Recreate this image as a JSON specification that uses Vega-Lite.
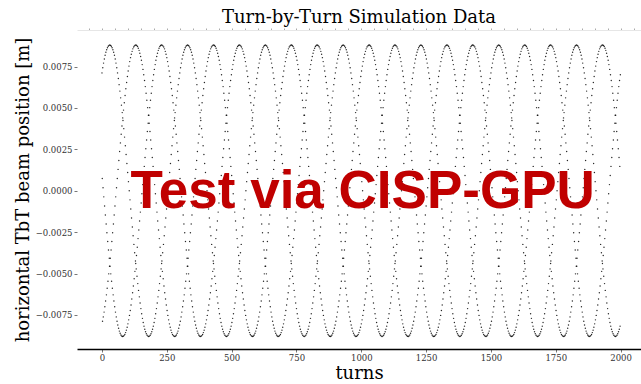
{"$schema":"https://vega.github.io/schema/vega-lite/v6.json","width":564,"height":319,"autosize":{"type":"none"},"padding":{"left":77,"top":30,"right":0,"bottom":35},"background":"#ffffff","config":{"view":{"stroke":null}},
"title":{"text":"Turn-by-Turn Simulation Data","font":"DejaVu Serif","fontSize":18,"fontWeight":"normal","color":"#000000","anchor":"middle","offset":1},
"datasets":{"wm":[{"t":1005,"x":-0.00102,"label":"Test via CISP-GPU"}],
"tbt":[{"t":0,"x":0.00712},{"t":1,"x":0.00074},{"t":2,"x":-0.00788},{"t":3,"x":0.00743},{"t":4,"x":0.00018},{"t":5,"x":-0.00762},{"t":6,"x":0.00771},{"t":7,"x":-0.00037},{"t":8,"x":-0.00733},{"t":9,"x":0.00796},{"t":10,"x":-0.00092},{"t":11,"x":-0.00701},{"t":12,"x":0.00818},{"t":13,"x":-0.00147},{"t":14,"x":-0.00666},{"t":15,"x":0.00837},{"t":16,"x":-0.00201},{"t":17,"x":-0.00629},{"t":18,"x":0.00852},{"t":19,"x":-0.00254},{"t":20,"x":-0.00589},{"t":21,"x":0.00864},{"t":22,"x":-0.00307},{"t":23,"x":-0.00547},{"t":24,"x":0.00873},{"t":25,"x":-0.00358},{"t":26,"x":-0.00502},{"t":27,"x":0.00878},{"t":28,"x":-0.00408},{"t":29,"x":-0.00456},{"t":30,"x":0.0088},{"t":31,"x":-0.00456},{"t":32,"x":-0.00408},{"t":33,"x":0.00878},{"t":34,"x":-0.00502},{"t":35,"x":-0.00358},{"t":36,"x":0.00873},{"t":37,"x":-0.00547},{"t":38,"x":-0.00307},{"t":39,"x":0.00864},{"t":40,"x":-0.00589},{"t":41,"x":-0.00254},{"t":42,"x":0.00852},{"t":43,"x":-0.00629},{"t":44,"x":-0.00201},{"t":45,"x":0.00837},{"t":46,"x":-0.00666},{"t":47,"x":-0.00147},{"t":48,"x":0.00818},{"t":49,"x":-0.00701},{"t":50,"x":-0.00092},{"t":51,"x":0.00796},{"t":52,"x":-0.00733},{"t":53,"x":-0.00037},{"t":54,"x":0.00771},{"t":55,"x":-0.00762},{"t":56,"x":0.00018},{"t":57,"x":0.00743},{"t":58,"x":-0.00788},{"t":59,"x":0.00074},{"t":60,"x":0.00712},{"t":61,"x":-0.00811},{"t":62,"x":0.00129},{"t":63,"x":0.00678},{"t":64,"x":-0.00831},{"t":65,"x":0.00183},{"t":66,"x":0.00641},{"t":67,"x":-0.00848},{"t":68,"x":0.00237},{"t":69,"x":0.00602},{"t":70,"x":-0.00861},{"t":71,"x":0.00289},{"t":72,"x":0.00561},{"t":73,"x":-0.00871},{"t":74,"x":0.00341},{"t":75,"x":0.00517},{"t":76,"x":-0.00877},{"t":77,"x":0.00391},{"t":78,"x":0.00472},{"t":79,"x":-0.0088},{"t":80,"x":0.0044},{"t":81,"x":0.00424},{"t":82,"x":-0.00879},{"t":83,"x":0.00487},{"t":84,"x":0.00375},{"t":85,"x":-0.00875},{"t":86,"x":0.00532},{"t":87,"x":0.00324},{"t":88,"x":-0.00868},{"t":89,"x":0.00575},{"t":90,"x":0.00272},{"t":91,"x":-0.00857},{"t":92,"x":0.00616},{"t":93,"x":0.00219},{"t":94,"x":-0.00842},{"t":95,"x":0.00654},{"t":96,"x":0.00165},{"t":97,"x":-0.00825},{"t":98,"x":0.0069},{"t":99,"x":0.0011},{"t":100,"x":-0.00804},{"t":101,"x":0.00723},{"t":102,"x":0.00055},{"t":103,"x":-0.0078},{"t":104,"x":0.00753},{"t":105,"x":0},{"t":106,"x":-0.00753},{"t":107,"x":0.0078},{"t":108,"x":-0.00055},{"t":109,"x":-0.00723},{"t":110,"x":0.00804},{"t":111,"x":-0.0011},{"t":112,"x":-0.0069},{"t":113,"x":0.00825},{"t":114,"x":-0.00165},{"t":115,"x":-0.00654},{"t":116,"x":0.00842},{"t":117,"x":-0.00219},{"t":118,"x":-0.00616},{"t":119,"x":0.00857},{"t":120,"x":-0.00272},{"t":121,"x":-0.00575},{"t":122,"x":0.00868},{"t":123,"x":-0.00324},{"t":124,"x":-0.00532},{"t":125,"x":0.00875},{"t":126,"x":-0.00375},{"t":127,"x":-0.00487},{"t":128,"x":0.00879},{"t":129,"x":-0.00424},{"t":130,"x":-0.0044},{"t":131,"x":0.0088},{"t":132,"x":-0.00472},{"t":133,"x":-0.00391},{"t":134,"x":0.00877},{"t":135,"x":-0.00517},{"t":136,"x":-0.00341},{"t":137,"x":0.00871},{"t":138,"x":-0.00561},{"t":139,"x":-0.00289},{"t":140,"x":0.00861},{"t":141,"x":-0.00602},{"t":142,"x":-0.00237},{"t":143,"x":0.00848},{"t":144,"x":-0.00641},{"t":145,"x":-0.00183},{"t":146,"x":0.00831},{"t":147,"x":-0.00678},{"t":148,"x":-0.00129},{"t":149,"x":0.00811},
{"t":150,"x":-0.00712},{"t":151,"x":-0.00074},{"t":152,"x":0.00788},{"t":153,"x":-0.00743},{"t":154,"x":-0.00018},{"t":155,"x":0.00762},{"t":156,"x":-0.00771},{"t":157,"x":0.00037},{"t":158,"x":0.00733},{"t":159,"x":-0.00796},{"t":160,"x":0.00092},{"t":161,"x":0.00701},{"t":162,"x":-0.00818},{"t":163,"x":0.00147},{"t":164,"x":0.00666},{"t":165,"x":-0.00837},{"t":166,"x":0.00201},{"t":167,"x":0.00629},{"t":168,"x":-0.00852},{"t":169,"x":0.00254},{"t":170,"x":0.00589},{"t":171,"x":-0.00864},{"t":172,"x":0.00307},{"t":173,"x":0.00547},{"t":174,"x":-0.00873},{"t":175,"x":0.00358},{"t":176,"x":0.00502},{"t":177,"x":-0.00878},{"t":178,"x":0.00408},{"t":179,"x":0.00456},{"t":180,"x":-0.0088},{"t":181,"x":0.00456},{"t":182,"x":0.00408},{"t":183,"x":-0.00878},{"t":184,"x":0.00502},{"t":185,"x":0.00358},{"t":186,"x":-0.00873},{"t":187,"x":0.00547},{"t":188,"x":0.00307},{"t":189,"x":-0.00864},{"t":190,"x":0.00589},{"t":191,"x":0.00254},{"t":192,"x":-0.00852},{"t":193,"x":0.00629},{"t":194,"x":0.00201},{"t":195,"x":-0.00837},{"t":196,"x":0.00666},{"t":197,"x":0.00147},{"t":198,"x":-0.00818},{"t":199,"x":0.00701},{"t":200,"x":0.00092},{"t":201,"x":-0.00796},{"t":202,"x":0.00733},{"t":203,"x":0.00037},{"t":204,"x":-0.00771},{"t":205,"x":0.00762},{"t":206,"x":-0.00018},{"t":207,"x":-0.00743},{"t":208,"x":0.00788},{"t":209,"x":-0.00074},{"t":210,"x":-0.00712},{"t":211,"x":0.00811},{"t":212,"x":-0.00129},{"t":213,"x":-0.00678},{"t":214,"x":0.00831},{"t":215,"x":-0.00183},{"t":216,"x":-0.00641},{"t":217,"x":0.00848},{"t":218,"x":-0.00237},{"t":219,"x":-0.00602},{"t":220,"x":0.00861},{"t":221,"x":-0.00289},{"t":222,"x":-0.00561},{"t":223,"x":0.00871},{"t":224,"x":-0.00341},{"t":225,"x":-0.00517},{"t":226,"x":0.00877},{"t":227,"x":-0.00391},{"t":228,"x":-0.00472},{"t":229,"x":0.0088},{"t":230,"x":-0.0044},{"t":231,"x":-0.00424},{"t":232,"x":0.00879},{"t":233,"x":-0.00487},{"t":234,"x":-0.00375},{"t":235,"x":0.00875},{"t":236,"x":-0.00532},{"t":237,"x":-0.00324},{"t":238,"x":0.00868},{"t":239,"x":-0.00575},{"t":240,"x":-0.00272},{"t":241,"x":0.00857},{"t":242,"x":-0.00616},{"t":243,"x":-0.00219},{"t":244,"x":0.00842},{"t":245,"x":-0.00654},{"t":246,"x":-0.00165},{"t":247,"x":0.00825},{"t":248,"x":-0.0069},{"t":249,"x":-0.0011},{"t":250,"x":0.00804},{"t":251,"x":-0.00723},{"t":252,"x":-0.00055},{"t":253,"x":0.0078},{"t":254,"x":-0.00753},{"t":255,"x":0},{"t":256,"x":0.00753},{"t":257,"x":-0.0078},{"t":258,"x":0.00055},{"t":259,"x":0.00723},{"t":260,"x":-0.00804},{"t":261,"x":0.0011},{"t":262,"x":0.0069},{"t":263,"x":-0.00825},{"t":264,"x":0.00165},{"t":265,"x":0.00654},{"t":266,"x":-0.00842},{"t":267,"x":0.00219},{"t":268,"x":0.00616},{"t":269,"x":-0.00857},{"t":270,"x":0.00272},{"t":271,"x":0.00575},{"t":272,"x":-0.00868},{"t":273,"x":0.00324},{"t":274,"x":0.00532},{"t":275,"x":-0.00875},{"t":276,"x":0.00375},{"t":277,"x":0.00487},{"t":278,"x":-0.00879},{"t":279,"x":0.00424},{"t":280,"x":0.0044},{"t":281,"x":-0.0088},{"t":282,"x":0.00472},{"t":283,"x":0.00391},{"t":284,"x":-0.00877},{"t":285,"x":0.00517},{"t":286,"x":0.00341},{"t":287,"x":-0.00871},{"t":288,"x":0.00561},{"t":289,"x":0.00289},{"t":290,"x":-0.00861},{"t":291,"x":0.00602},{"t":292,"x":0.00237},{"t":293,"x":-0.00848},{"t":294,"x":0.00641},{"t":295,"x":0.00183},{"t":296,"x":-0.00831},{"t":297,"x":0.00678},{"t":298,"x":0.00129},{"t":299,"x":-0.00811},
{"t":300,"x":0.00712},{"t":301,"x":0.00074},{"t":302,"x":-0.00788},{"t":303,"x":0.00743},{"t":304,"x":0.00018},{"t":305,"x":-0.00762},{"t":306,"x":0.00771},{"t":307,"x":-0.00037},{"t":308,"x":-0.00733},{"t":309,"x":0.00796},{"t":310,"x":-0.00092},{"t":311,"x":-0.00701},{"t":312,"x":0.00818},{"t":313,"x":-0.00147},{"t":314,"x":-0.00666},{"t":315,"x":0.00837},{"t":316,"x":-0.00201},{"t":317,"x":-0.00629},{"t":318,"x":0.00852},{"t":319,"x":-0.00254},{"t":320,"x":-0.00589},{"t":321,"x":0.00864},{"t":322,"x":-0.00307},{"t":323,"x":-0.00547},{"t":324,"x":0.00873},{"t":325,"x":-0.00358},{"t":326,"x":-0.00502},{"t":327,"x":0.00878},{"t":328,"x":-0.00408},{"t":329,"x":-0.00456},{"t":330,"x":0.0088},{"t":331,"x":-0.00456},{"t":332,"x":-0.00408},{"t":333,"x":0.00878},{"t":334,"x":-0.00502},{"t":335,"x":-0.00358},{"t":336,"x":0.00873},{"t":337,"x":-0.00547},{"t":338,"x":-0.00307},{"t":339,"x":0.00864},{"t":340,"x":-0.00589},{"t":341,"x":-0.00254},{"t":342,"x":0.00852},{"t":343,"x":-0.00629},{"t":344,"x":-0.00201},{"t":345,"x":0.00837},{"t":346,"x":-0.00666},{"t":347,"x":-0.00147},{"t":348,"x":0.00818},{"t":349,"x":-0.00701},{"t":350,"x":-0.00092},{"t":351,"x":0.00796},{"t":352,"x":-0.00733},{"t":353,"x":-0.00037},{"t":354,"x":0.00771},{"t":355,"x":-0.00762},{"t":356,"x":0.00018},{"t":357,"x":0.00743},{"t":358,"x":-0.00788},{"t":359,"x":0.00074},{"t":360,"x":0.00712},{"t":361,"x":-0.00811},{"t":362,"x":0.00129},{"t":363,"x":0.00678},{"t":364,"x":-0.00831},{"t":365,"x":0.00183},{"t":366,"x":0.00641},{"t":367,"x":-0.00848},{"t":368,"x":0.00237},{"t":369,"x":0.00602},{"t":370,"x":-0.00861},{"t":371,"x":0.00289},{"t":372,"x":0.00561},{"t":373,"x":-0.00871},{"t":374,"x":0.00341},{"t":375,"x":0.00517},{"t":376,"x":-0.00877},{"t":377,"x":0.00391},{"t":378,"x":0.00472},{"t":379,"x":-0.0088},{"t":380,"x":0.0044},{"t":381,"x":0.00424},{"t":382,"x":-0.00879},{"t":383,"x":0.00487},{"t":384,"x":0.00375},{"t":385,"x":-0.00875},{"t":386,"x":0.00532},{"t":387,"x":0.00324},{"t":388,"x":-0.00868},{"t":389,"x":0.00575},{"t":390,"x":0.00272},{"t":391,"x":-0.00857},{"t":392,"x":0.00616},{"t":393,"x":0.00219},{"t":394,"x":-0.00842},{"t":395,"x":0.00654},{"t":396,"x":0.00165},{"t":397,"x":-0.00825},{"t":398,"x":0.0069},{"t":399,"x":0.0011},{"t":400,"x":-0.00804},{"t":401,"x":0.00723},{"t":402,"x":0.00055},{"t":403,"x":-0.0078},{"t":404,"x":0.00753},{"t":405,"x":0},{"t":406,"x":-0.00753},{"t":407,"x":0.0078},{"t":408,"x":-0.00055},{"t":409,"x":-0.00723},{"t":410,"x":0.00804},{"t":411,"x":-0.0011},{"t":412,"x":-0.0069},{"t":413,"x":0.00825},{"t":414,"x":-0.00165},{"t":415,"x":-0.00654},{"t":416,"x":0.00842},{"t":417,"x":-0.00219},{"t":418,"x":-0.00616},{"t":419,"x":0.00857},{"t":420,"x":-0.00272},{"t":421,"x":-0.00575},{"t":422,"x":0.00868},{"t":423,"x":-0.00324},{"t":424,"x":-0.00532},{"t":425,"x":0.00875},{"t":426,"x":-0.00375},{"t":427,"x":-0.00487},{"t":428,"x":0.00879},{"t":429,"x":-0.00424},{"t":430,"x":-0.0044},{"t":431,"x":0.0088},{"t":432,"x":-0.00472},{"t":433,"x":-0.00391},{"t":434,"x":0.00877},{"t":435,"x":-0.00517},{"t":436,"x":-0.00341},{"t":437,"x":0.00871},{"t":438,"x":-0.00561},{"t":439,"x":-0.00289},{"t":440,"x":0.00861},{"t":441,"x":-0.00602},{"t":442,"x":-0.00237},{"t":443,"x":0.00848},{"t":444,"x":-0.00641},{"t":445,"x":-0.00183},{"t":446,"x":0.00831},{"t":447,"x":-0.00678},{"t":448,"x":-0.00129},{"t":449,"x":0.00811},
{"t":450,"x":-0.00712},{"t":451,"x":-0.00074},{"t":452,"x":0.00788},{"t":453,"x":-0.00743},{"t":454,"x":-0.00018},{"t":455,"x":0.00762},{"t":456,"x":-0.00771},{"t":457,"x":0.00037},{"t":458,"x":0.00733},{"t":459,"x":-0.00796},{"t":460,"x":0.00092},{"t":461,"x":0.00701},{"t":462,"x":-0.00818},{"t":463,"x":0.00147},{"t":464,"x":0.00666},{"t":465,"x":-0.00837},{"t":466,"x":0.00201},{"t":467,"x":0.00629},{"t":468,"x":-0.00852},{"t":469,"x":0.00254},{"t":470,"x":0.00589},{"t":471,"x":-0.00864},{"t":472,"x":0.00307},{"t":473,"x":0.00547},{"t":474,"x":-0.00873},{"t":475,"x":0.00358},{"t":476,"x":0.00502},{"t":477,"x":-0.00878},{"t":478,"x":0.00408},{"t":479,"x":0.00456},{"t":480,"x":-0.0088},{"t":481,"x":0.00456},{"t":482,"x":0.00408},{"t":483,"x":-0.00878},{"t":484,"x":0.00502},{"t":485,"x":0.00358},{"t":486,"x":-0.00873},{"t":487,"x":0.00547},{"t":488,"x":0.00307},{"t":489,"x":-0.00864},{"t":490,"x":0.00589},{"t":491,"x":0.00254},{"t":492,"x":-0.00852},{"t":493,"x":0.00629},{"t":494,"x":0.00201},{"t":495,"x":-0.00837},{"t":496,"x":0.00666},{"t":497,"x":0.00147},{"t":498,"x":-0.00818},{"t":499,"x":0.00701},{"t":500,"x":0.00092},{"t":501,"x":-0.00796},{"t":502,"x":0.00733},{"t":503,"x":0.00037},{"t":504,"x":-0.00771},{"t":505,"x":0.00762},{"t":506,"x":-0.00018},{"t":507,"x":-0.00743},{"t":508,"x":0.00788},{"t":509,"x":-0.00074},{"t":510,"x":-0.00712},{"t":511,"x":0.00811},{"t":512,"x":-0.00129},{"t":513,"x":-0.00678},{"t":514,"x":0.00831},{"t":515,"x":-0.00183},{"t":516,"x":-0.00641},{"t":517,"x":0.00848},{"t":518,"x":-0.00237},{"t":519,"x":-0.00602},{"t":520,"x":0.00861},{"t":521,"x":-0.00289},{"t":522,"x":-0.00561},{"t":523,"x":0.00871},{"t":524,"x":-0.00341},{"t":525,"x":-0.00517},{"t":526,"x":0.00877},{"t":527,"x":-0.00391},{"t":528,"x":-0.00472},{"t":529,"x":0.0088},{"t":530,"x":-0.0044},{"t":531,"x":-0.00424},{"t":532,"x":0.00879},{"t":533,"x":-0.00487},{"t":534,"x":-0.00375},{"t":535,"x":0.00875},{"t":536,"x":-0.00532},{"t":537,"x":-0.00324},{"t":538,"x":0.00868},{"t":539,"x":-0.00575},{"t":540,"x":-0.00272},{"t":541,"x":0.00857},{"t":542,"x":-0.00616},{"t":543,"x":-0.00219},{"t":544,"x":0.00842},{"t":545,"x":-0.00654},{"t":546,"x":-0.00165},{"t":547,"x":0.00825},{"t":548,"x":-0.0069},{"t":549,"x":-0.0011},{"t":550,"x":0.00804},{"t":551,"x":-0.00723},{"t":552,"x":-0.00055},{"t":553,"x":0.0078},{"t":554,"x":-0.00753},{"t":555,"x":0},{"t":556,"x":0.00753},{"t":557,"x":-0.0078},{"t":558,"x":0.00055},{"t":559,"x":0.00723},{"t":560,"x":-0.00804},{"t":561,"x":0.0011},{"t":562,"x":0.0069},{"t":563,"x":-0.00825},{"t":564,"x":0.00165},{"t":565,"x":0.00654},{"t":566,"x":-0.00842},{"t":567,"x":0.00219},{"t":568,"x":0.00616},{"t":569,"x":-0.00857},{"t":570,"x":0.00272},{"t":571,"x":0.00575},{"t":572,"x":-0.00868},{"t":573,"x":0.00324},{"t":574,"x":0.00532},{"t":575,"x":-0.00875},{"t":576,"x":0.00375},{"t":577,"x":0.00487},{"t":578,"x":-0.00879},{"t":579,"x":0.00424},{"t":580,"x":0.0044},{"t":581,"x":-0.0088},{"t":582,"x":0.00472},{"t":583,"x":0.00391},{"t":584,"x":-0.00877},{"t":585,"x":0.00517},{"t":586,"x":0.00341},{"t":587,"x":-0.00871},{"t":588,"x":0.00561},{"t":589,"x":0.00289},{"t":590,"x":-0.00861},{"t":591,"x":0.00602},{"t":592,"x":0.00237},{"t":593,"x":-0.00848},{"t":594,"x":0.00641},{"t":595,"x":0.00183},{"t":596,"x":-0.00831},{"t":597,"x":0.00678},{"t":598,"x":0.00129},{"t":599,"x":-0.00811},
{"t":600,"x":0.00712},{"t":601,"x":0.00074},{"t":602,"x":-0.00788},{"t":603,"x":0.00743},{"t":604,"x":0.00018},{"t":605,"x":-0.00762},{"t":606,"x":0.00771},{"t":607,"x":-0.00037},{"t":608,"x":-0.00733},{"t":609,"x":0.00796},{"t":610,"x":-0.00092},{"t":611,"x":-0.00701},{"t":612,"x":0.00818},{"t":613,"x":-0.00147},{"t":614,"x":-0.00666},{"t":615,"x":0.00837},{"t":616,"x":-0.00201},{"t":617,"x":-0.00629},{"t":618,"x":0.00852},{"t":619,"x":-0.00254},{"t":620,"x":-0.00589},{"t":621,"x":0.00864},{"t":622,"x":-0.00307},{"t":623,"x":-0.00547},{"t":624,"x":0.00873},{"t":625,"x":-0.00358},{"t":626,"x":-0.00502},{"t":627,"x":0.00878},{"t":628,"x":-0.00408},{"t":629,"x":-0.00456},{"t":630,"x":0.0088},{"t":631,"x":-0.00456},{"t":632,"x":-0.00408},{"t":633,"x":0.00878},{"t":634,"x":-0.00502},{"t":635,"x":-0.00358},{"t":636,"x":0.00873},{"t":637,"x":-0.00547},{"t":638,"x":-0.00307},{"t":639,"x":0.00864},{"t":640,"x":-0.00589},{"t":641,"x":-0.00254},{"t":642,"x":0.00852},{"t":643,"x":-0.00629},{"t":644,"x":-0.00201},{"t":645,"x":0.00837},{"t":646,"x":-0.00666},{"t":647,"x":-0.00147},{"t":648,"x":0.00818},{"t":649,"x":-0.00701},{"t":650,"x":-0.00092},{"t":651,"x":0.00796},{"t":652,"x":-0.00733},{"t":653,"x":-0.00037},{"t":654,"x":0.00771},{"t":655,"x":-0.00762},{"t":656,"x":0.00018},{"t":657,"x":0.00743},{"t":658,"x":-0.00788},{"t":659,"x":0.00074},{"t":660,"x":0.00712},{"t":661,"x":-0.00811},{"t":662,"x":0.00129},{"t":663,"x":0.00678},{"t":664,"x":-0.00831},{"t":665,"x":0.00183},{"t":666,"x":0.00641},{"t":667,"x":-0.00848},{"t":668,"x":0.00237},{"t":669,"x":0.00602},{"t":670,"x":-0.00861},{"t":671,"x":0.00289},{"t":672,"x":0.00561},{"t":673,"x":-0.00871},{"t":674,"x":0.00341},{"t":675,"x":0.00517},{"t":676,"x":-0.00877},{"t":677,"x":0.00391},{"t":678,"x":0.00472},{"t":679,"x":-0.0088},{"t":680,"x":0.0044},{"t":681,"x":0.00424},{"t":682,"x":-0.00879},{"t":683,"x":0.00487},{"t":684,"x":0.00375},{"t":685,"x":-0.00875},{"t":686,"x":0.00532},{"t":687,"x":0.00324},{"t":688,"x":-0.00868},{"t":689,"x":0.00575},{"t":690,"x":0.00272},{"t":691,"x":-0.00857},{"t":692,"x":0.00616},{"t":693,"x":0.00219},{"t":694,"x":-0.00842},{"t":695,"x":0.00654},{"t":696,"x":0.00165},{"t":697,"x":-0.00825},{"t":698,"x":0.0069},{"t":699,"x":0.0011},{"t":700,"x":-0.00804},{"t":701,"x":0.00723},{"t":702,"x":0.00055},{"t":703,"x":-0.0078},{"t":704,"x":0.00753},{"t":705,"x":0},{"t":706,"x":-0.00753},{"t":707,"x":0.0078},{"t":708,"x":-0.00055},{"t":709,"x":-0.00723},{"t":710,"x":0.00804},{"t":711,"x":-0.0011},{"t":712,"x":-0.0069},{"t":713,"x":0.00825},{"t":714,"x":-0.00165},{"t":715,"x":-0.00654},{"t":716,"x":0.00842},{"t":717,"x":-0.00219},{"t":718,"x":-0.00616},{"t":719,"x":0.00857},{"t":720,"x":-0.00272},{"t":721,"x":-0.00575},{"t":722,"x":0.00868},{"t":723,"x":-0.00324},{"t":724,"x":-0.00532},{"t":725,"x":0.00875},{"t":726,"x":-0.00375},{"t":727,"x":-0.00487},{"t":728,"x":0.00879},{"t":729,"x":-0.00424},{"t":730,"x":-0.0044},{"t":731,"x":0.0088},{"t":732,"x":-0.00472},{"t":733,"x":-0.00391},{"t":734,"x":0.00877},{"t":735,"x":-0.00517},{"t":736,"x":-0.00341},{"t":737,"x":0.00871},{"t":738,"x":-0.00561},{"t":739,"x":-0.00289},{"t":740,"x":0.00861},{"t":741,"x":-0.00602},{"t":742,"x":-0.00237},{"t":743,"x":0.00848},{"t":744,"x":-0.00641},{"t":745,"x":-0.00183},{"t":746,"x":0.00831},{"t":747,"x":-0.00678},{"t":748,"x":-0.00129},{"t":749,"x":0.00811},
{"t":750,"x":-0.00712},{"t":751,"x":-0.00074},{"t":752,"x":0.00788},{"t":753,"x":-0.00743},{"t":754,"x":-0.00018},{"t":755,"x":0.00762},{"t":756,"x":-0.00771},{"t":757,"x":0.00037},{"t":758,"x":0.00733},{"t":759,"x":-0.00796},{"t":760,"x":0.00092},{"t":761,"x":0.00701},{"t":762,"x":-0.00818},{"t":763,"x":0.00147},{"t":764,"x":0.00666},{"t":765,"x":-0.00837},{"t":766,"x":0.00201},{"t":767,"x":0.00629},{"t":768,"x":-0.00852},{"t":769,"x":0.00254},{"t":770,"x":0.00589},{"t":771,"x":-0.00864},{"t":772,"x":0.00307},{"t":773,"x":0.00547},{"t":774,"x":-0.00873},{"t":775,"x":0.00358},{"t":776,"x":0.00502},{"t":777,"x":-0.00878},{"t":778,"x":0.00408},{"t":779,"x":0.00456},{"t":780,"x":-0.0088},{"t":781,"x":0.00456},{"t":782,"x":0.00408},{"t":783,"x":-0.00878},{"t":784,"x":0.00502},{"t":785,"x":0.00358},{"t":786,"x":-0.00873},{"t":787,"x":0.00547},{"t":788,"x":0.00307},{"t":789,"x":-0.00864},{"t":790,"x":0.00589},{"t":791,"x":0.00254},{"t":792,"x":-0.00852},{"t":793,"x":0.00629},{"t":794,"x":0.00201},{"t":795,"x":-0.00837},{"t":796,"x":0.00666},{"t":797,"x":0.00147},{"t":798,"x":-0.00818},{"t":799,"x":0.00701},{"t":800,"x":0.00092},{"t":801,"x":-0.00796},{"t":802,"x":0.00733},{"t":803,"x":0.00037},{"t":804,"x":-0.00771},{"t":805,"x":0.00762},{"t":806,"x":-0.00018},{"t":807,"x":-0.00743},{"t":808,"x":0.00788},{"t":809,"x":-0.00074},{"t":810,"x":-0.00712},{"t":811,"x":0.00811},{"t":812,"x":-0.00129},{"t":813,"x":-0.00678},{"t":814,"x":0.00831},{"t":815,"x":-0.00183},{"t":816,"x":-0.00641},{"t":817,"x":0.00848},{"t":818,"x":-0.00237},{"t":819,"x":-0.00602},{"t":820,"x":0.00861},{"t":821,"x":-0.00289},{"t":822,"x":-0.00561},{"t":823,"x":0.00871},{"t":824,"x":-0.00341},{"t":825,"x":-0.00517},{"t":826,"x":0.00877},{"t":827,"x":-0.00391},{"t":828,"x":-0.00472},{"t":829,"x":0.0088},{"t":830,"x":-0.0044},{"t":831,"x":-0.00424},{"t":832,"x":0.00879},{"t":833,"x":-0.00487},{"t":834,"x":-0.00375},{"t":835,"x":0.00875},{"t":836,"x":-0.00532},{"t":837,"x":-0.00324},{"t":838,"x":0.00868},{"t":839,"x":-0.00575},{"t":840,"x":-0.00272},{"t":841,"x":0.00857},{"t":842,"x":-0.00616},{"t":843,"x":-0.00219},{"t":844,"x":0.00842},{"t":845,"x":-0.00654},{"t":846,"x":-0.00165},{"t":847,"x":0.00825},{"t":848,"x":-0.0069},{"t":849,"x":-0.0011},{"t":850,"x":0.00804},{"t":851,"x":-0.00723},{"t":852,"x":-0.00055},{"t":853,"x":0.0078},{"t":854,"x":-0.00753},{"t":855,"x":0},{"t":856,"x":0.00753},{"t":857,"x":-0.0078},{"t":858,"x":0.00055},{"t":859,"x":0.00723},{"t":860,"x":-0.00804},{"t":861,"x":0.0011},{"t":862,"x":0.0069},{"t":863,"x":-0.00825},{"t":864,"x":0.00165},{"t":865,"x":0.00654},{"t":866,"x":-0.00842},{"t":867,"x":0.00219},{"t":868,"x":0.00616},{"t":869,"x":-0.00857},{"t":870,"x":0.00272},{"t":871,"x":0.00575},{"t":872,"x":-0.00868},{"t":873,"x":0.00324},{"t":874,"x":0.00532},{"t":875,"x":-0.00875},{"t":876,"x":0.00375},{"t":877,"x":0.00487},{"t":878,"x":-0.00879},{"t":879,"x":0.00424},{"t":880,"x":0.0044},{"t":881,"x":-0.0088},{"t":882,"x":0.00472},{"t":883,"x":0.00391},{"t":884,"x":-0.00877},{"t":885,"x":0.00517},{"t":886,"x":0.00341},{"t":887,"x":-0.00871},{"t":888,"x":0.00561},{"t":889,"x":0.00289},{"t":890,"x":-0.00861},{"t":891,"x":0.00602},{"t":892,"x":0.00237},{"t":893,"x":-0.00848},{"t":894,"x":0.00641},{"t":895,"x":0.00183},{"t":896,"x":-0.00831},{"t":897,"x":0.00678},{"t":898,"x":0.00129},{"t":899,"x":-0.00811},
{"t":900,"x":0.00712},{"t":901,"x":0.00074},{"t":902,"x":-0.00788},{"t":903,"x":0.00743},{"t":904,"x":0.00018},{"t":905,"x":-0.00762},{"t":906,"x":0.00771},{"t":907,"x":-0.00037},{"t":908,"x":-0.00733},{"t":909,"x":0.00796},{"t":910,"x":-0.00092},{"t":911,"x":-0.00701},{"t":912,"x":0.00818},{"t":913,"x":-0.00147},{"t":914,"x":-0.00666},{"t":915,"x":0.00837},{"t":916,"x":-0.00201},{"t":917,"x":-0.00629},{"t":918,"x":0.00852},{"t":919,"x":-0.00254},{"t":920,"x":-0.00589},{"t":921,"x":0.00864},{"t":922,"x":-0.00307},{"t":923,"x":-0.00547},{"t":924,"x":0.00873},{"t":925,"x":-0.00358},{"t":926,"x":-0.00502},{"t":927,"x":0.00878},{"t":928,"x":-0.00408},{"t":929,"x":-0.00456},{"t":930,"x":0.0088},{"t":931,"x":-0.00456},{"t":932,"x":-0.00408},{"t":933,"x":0.00878},{"t":934,"x":-0.00502},{"t":935,"x":-0.00358},{"t":936,"x":0.00873},{"t":937,"x":-0.00547},{"t":938,"x":-0.00307},{"t":939,"x":0.00864},{"t":940,"x":-0.00589},{"t":941,"x":-0.00254},{"t":942,"x":0.00852},{"t":943,"x":-0.00629},{"t":944,"x":-0.00201},{"t":945,"x":0.00837},{"t":946,"x":-0.00666},{"t":947,"x":-0.00147},{"t":948,"x":0.00818},{"t":949,"x":-0.00701},{"t":950,"x":-0.00092},{"t":951,"x":0.00796},{"t":952,"x":-0.00733},{"t":953,"x":-0.00037},{"t":954,"x":0.00771},{"t":955,"x":-0.00762},{"t":956,"x":0.00018},{"t":957,"x":0.00743},{"t":958,"x":-0.00788},{"t":959,"x":0.00074},{"t":960,"x":0.00712},{"t":961,"x":-0.00811},{"t":962,"x":0.00129},{"t":963,"x":0.00678},{"t":964,"x":-0.00831},{"t":965,"x":0.00183},{"t":966,"x":0.00641},{"t":967,"x":-0.00848},{"t":968,"x":0.00237},{"t":969,"x":0.00602},{"t":970,"x":-0.00861},{"t":971,"x":0.00289},{"t":972,"x":0.00561},{"t":973,"x":-0.00871},{"t":974,"x":0.00341},{"t":975,"x":0.00517},{"t":976,"x":-0.00877},{"t":977,"x":0.00391},{"t":978,"x":0.00472},{"t":979,"x":-0.0088},{"t":980,"x":0.0044},{"t":981,"x":0.00424},{"t":982,"x":-0.00879},{"t":983,"x":0.00487},{"t":984,"x":0.00375},{"t":985,"x":-0.00875},{"t":986,"x":0.00532},{"t":987,"x":0.00324},{"t":988,"x":-0.00868},{"t":989,"x":0.00575},{"t":990,"x":0.00272},{"t":991,"x":-0.00857},{"t":992,"x":0.00616},{"t":993,"x":0.00219},{"t":994,"x":-0.00842},{"t":995,"x":0.00654},{"t":996,"x":0.00165},{"t":997,"x":-0.00825},{"t":998,"x":0.0069},{"t":999,"x":0.0011},{"t":1000,"x":-0.00804},{"t":1001,"x":0.00723},{"t":1002,"x":0.00055},{"t":1003,"x":-0.0078},{"t":1004,"x":0.00753},{"t":1005,"x":0},{"t":1006,"x":-0.00753},{"t":1007,"x":0.0078},{"t":1008,"x":-0.00055},{"t":1009,"x":-0.00723},{"t":1010,"x":0.00804},{"t":1011,"x":-0.0011},{"t":1012,"x":-0.0069},{"t":1013,"x":0.00825},{"t":1014,"x":-0.00165},{"t":1015,"x":-0.00654},{"t":1016,"x":0.00842},{"t":1017,"x":-0.00219},{"t":1018,"x":-0.00616},{"t":1019,"x":0.00857},{"t":1020,"x":-0.00272},{"t":1021,"x":-0.00575},{"t":1022,"x":0.00868},{"t":1023,"x":-0.00324},{"t":1024,"x":-0.00532},{"t":1025,"x":0.00875},{"t":1026,"x":-0.00375},{"t":1027,"x":-0.00487},{"t":1028,"x":0.00879},{"t":1029,"x":-0.00424},{"t":1030,"x":-0.0044},{"t":1031,"x":0.0088},{"t":1032,"x":-0.00472},{"t":1033,"x":-0.00391},{"t":1034,"x":0.00877},{"t":1035,"x":-0.00517},{"t":1036,"x":-0.00341},{"t":1037,"x":0.00871},{"t":1038,"x":-0.00561},{"t":1039,"x":-0.00289},{"t":1040,"x":0.00861},{"t":1041,"x":-0.00602},{"t":1042,"x":-0.00237},{"t":1043,"x":0.00848},{"t":1044,"x":-0.00641},{"t":1045,"x":-0.00183},{"t":1046,"x":0.00831},{"t":1047,"x":-0.00678},{"t":1048,"x":-0.00129},{"t":1049,"x":0.00811},
{"t":1050,"x":-0.00712},{"t":1051,"x":-0.00074},{"t":1052,"x":0.00788},{"t":1053,"x":-0.00743},{"t":1054,"x":-0.00018},{"t":1055,"x":0.00762},{"t":1056,"x":-0.00771},{"t":1057,"x":0.00037},{"t":1058,"x":0.00733},{"t":1059,"x":-0.00796},{"t":1060,"x":0.00092},{"t":1061,"x":0.00701},{"t":1062,"x":-0.00818},{"t":1063,"x":0.00147},{"t":1064,"x":0.00666},{"t":1065,"x":-0.00837},{"t":1066,"x":0.00201},{"t":1067,"x":0.00629},{"t":1068,"x":-0.00852},{"t":1069,"x":0.00254},{"t":1070,"x":0.00589},{"t":1071,"x":-0.00864},{"t":1072,"x":0.00307},{"t":1073,"x":0.00547},{"t":1074,"x":-0.00873},{"t":1075,"x":0.00358},{"t":1076,"x":0.00502},{"t":1077,"x":-0.00878},{"t":1078,"x":0.00408},{"t":1079,"x":0.00456},{"t":1080,"x":-0.0088},{"t":1081,"x":0.00456},{"t":1082,"x":0.00408},{"t":1083,"x":-0.00878},{"t":1084,"x":0.00502},{"t":1085,"x":0.00358},{"t":1086,"x":-0.00873},{"t":1087,"x":0.00547},{"t":1088,"x":0.00307},{"t":1089,"x":-0.00864},{"t":1090,"x":0.00589},{"t":1091,"x":0.00254},{"t":1092,"x":-0.00852},{"t":1093,"x":0.00629},{"t":1094,"x":0.00201},{"t":1095,"x":-0.00837},{"t":1096,"x":0.00666},{"t":1097,"x":0.00147},{"t":1098,"x":-0.00818},{"t":1099,"x":0.00701},{"t":1100,"x":0.00092},{"t":1101,"x":-0.00796},{"t":1102,"x":0.00733},{"t":1103,"x":0.00037},{"t":1104,"x":-0.00771},{"t":1105,"x":0.00762},{"t":1106,"x":-0.00018},{"t":1107,"x":-0.00743},{"t":1108,"x":0.00788},{"t":1109,"x":-0.00074},{"t":1110,"x":-0.00712},{"t":1111,"x":0.00811},{"t":1112,"x":-0.00129},{"t":1113,"x":-0.00678},{"t":1114,"x":0.00831},{"t":1115,"x":-0.00183},{"t":1116,"x":-0.00641},{"t":1117,"x":0.00848},{"t":1118,"x":-0.00237},{"t":1119,"x":-0.00602},{"t":1120,"x":0.00861},{"t":1121,"x":-0.00289},{"t":1122,"x":-0.00561},{"t":1123,"x":0.00871},{"t":1124,"x":-0.00341},{"t":1125,"x":-0.00517},{"t":1126,"x":0.00877},{"t":1127,"x":-0.00391},{"t":1128,"x":-0.00472},{"t":1129,"x":0.0088},{"t":1130,"x":-0.0044},{"t":1131,"x":-0.00424},{"t":1132,"x":0.00879},{"t":1133,"x":-0.00487},{"t":1134,"x":-0.00375},{"t":1135,"x":0.00875},{"t":1136,"x":-0.00532},{"t":1137,"x":-0.00324},{"t":1138,"x":0.00868},{"t":1139,"x":-0.00575},{"t":1140,"x":-0.00272},{"t":1141,"x":0.00857},{"t":1142,"x":-0.00616},{"t":1143,"x":-0.00219},{"t":1144,"x":0.00842},{"t":1145,"x":-0.00654},{"t":1146,"x":-0.00165},{"t":1147,"x":0.00825},{"t":1148,"x":-0.0069},{"t":1149,"x":-0.0011},{"t":1150,"x":0.00804},{"t":1151,"x":-0.00723},{"t":1152,"x":-0.00055},{"t":1153,"x":0.0078},{"t":1154,"x":-0.00753},{"t":1155,"x":0},{"t":1156,"x":0.00753},{"t":1157,"x":-0.0078},{"t":1158,"x":0.00055},{"t":1159,"x":0.00723},{"t":1160,"x":-0.00804},{"t":1161,"x":0.0011},{"t":1162,"x":0.0069},{"t":1163,"x":-0.00825},{"t":1164,"x":0.00165},{"t":1165,"x":0.00654},{"t":1166,"x":-0.00842},{"t":1167,"x":0.00219},{"t":1168,"x":0.00616},{"t":1169,"x":-0.00857},{"t":1170,"x":0.00272},{"t":1171,"x":0.00575},{"t":1172,"x":-0.00868},{"t":1173,"x":0.00324},{"t":1174,"x":0.00532},{"t":1175,"x":-0.00875},{"t":1176,"x":0.00375},{"t":1177,"x":0.00487},{"t":1178,"x":-0.00879},{"t":1179,"x":0.00424},{"t":1180,"x":0.0044},{"t":1181,"x":-0.0088},{"t":1182,"x":0.00472},{"t":1183,"x":0.00391},{"t":1184,"x":-0.00877},{"t":1185,"x":0.00517},{"t":1186,"x":0.00341},{"t":1187,"x":-0.00871},{"t":1188,"x":0.00561},{"t":1189,"x":0.00289},{"t":1190,"x":-0.00861},{"t":1191,"x":0.00602},{"t":1192,"x":0.00237},{"t":1193,"x":-0.00848},{"t":1194,"x":0.00641},{"t":1195,"x":0.00183},{"t":1196,"x":-0.00831},{"t":1197,"x":0.00678},{"t":1198,"x":0.00129},{"t":1199,"x":-0.00811},
{"t":1200,"x":0.00712},{"t":1201,"x":0.00074},{"t":1202,"x":-0.00788},{"t":1203,"x":0.00743},{"t":1204,"x":0.00018},{"t":1205,"x":-0.00762},{"t":1206,"x":0.00771},{"t":1207,"x":-0.00037},{"t":1208,"x":-0.00733},{"t":1209,"x":0.00796},{"t":1210,"x":-0.00092},{"t":1211,"x":-0.00701},{"t":1212,"x":0.00818},{"t":1213,"x":-0.00147},{"t":1214,"x":-0.00666},{"t":1215,"x":0.00837},{"t":1216,"x":-0.00201},{"t":1217,"x":-0.00629},{"t":1218,"x":0.00852},{"t":1219,"x":-0.00254},{"t":1220,"x":-0.00589},{"t":1221,"x":0.00864},{"t":1222,"x":-0.00307},{"t":1223,"x":-0.00547},{"t":1224,"x":0.00873},{"t":1225,"x":-0.00358},{"t":1226,"x":-0.00502},{"t":1227,"x":0.00878},{"t":1228,"x":-0.00408},{"t":1229,"x":-0.00456},{"t":1230,"x":0.0088},{"t":1231,"x":-0.00456},{"t":1232,"x":-0.00408},{"t":1233,"x":0.00878},{"t":1234,"x":-0.00502},{"t":1235,"x":-0.00358},{"t":1236,"x":0.00873},{"t":1237,"x":-0.00547},{"t":1238,"x":-0.00307},{"t":1239,"x":0.00864},{"t":1240,"x":-0.00589},{"t":1241,"x":-0.00254},{"t":1242,"x":0.00852},{"t":1243,"x":-0.00629},{"t":1244,"x":-0.00201},{"t":1245,"x":0.00837},{"t":1246,"x":-0.00666},{"t":1247,"x":-0.00147},{"t":1248,"x":0.00818},{"t":1249,"x":-0.00701},{"t":1250,"x":-0.00092},{"t":1251,"x":0.00796},{"t":1252,"x":-0.00733},{"t":1253,"x":-0.00037},{"t":1254,"x":0.00771},{"t":1255,"x":-0.00762},{"t":1256,"x":0.00018},{"t":1257,"x":0.00743},{"t":1258,"x":-0.00788},{"t":1259,"x":0.00074},{"t":1260,"x":0.00712},{"t":1261,"x":-0.00811},{"t":1262,"x":0.00129},{"t":1263,"x":0.00678},{"t":1264,"x":-0.00831},{"t":1265,"x":0.00183},{"t":1266,"x":0.00641},{"t":1267,"x":-0.00848},{"t":1268,"x":0.00237},{"t":1269,"x":0.00602},{"t":1270,"x":-0.00861},{"t":1271,"x":0.00289},{"t":1272,"x":0.00561},{"t":1273,"x":-0.00871},{"t":1274,"x":0.00341},{"t":1275,"x":0.00517},{"t":1276,"x":-0.00877},{"t":1277,"x":0.00391},{"t":1278,"x":0.00472},{"t":1279,"x":-0.0088},{"t":1280,"x":0.0044},{"t":1281,"x":0.00424},{"t":1282,"x":-0.00879},{"t":1283,"x":0.00487},{"t":1284,"x":0.00375},{"t":1285,"x":-0.00875},{"t":1286,"x":0.00532},{"t":1287,"x":0.00324},{"t":1288,"x":-0.00868},{"t":1289,"x":0.00575},{"t":1290,"x":0.00272},{"t":1291,"x":-0.00857},{"t":1292,"x":0.00616},{"t":1293,"x":0.00219},{"t":1294,"x":-0.00842},{"t":1295,"x":0.00654},{"t":1296,"x":0.00165},{"t":1297,"x":-0.00825},{"t":1298,"x":0.0069},{"t":1299,"x":0.0011},{"t":1300,"x":-0.00804},{"t":1301,"x":0.00723},{"t":1302,"x":0.00055},{"t":1303,"x":-0.0078},{"t":1304,"x":0.00753},{"t":1305,"x":0},{"t":1306,"x":-0.00753},{"t":1307,"x":0.0078},{"t":1308,"x":-0.00055},{"t":1309,"x":-0.00723},{"t":1310,"x":0.00804},{"t":1311,"x":-0.0011},{"t":1312,"x":-0.0069},{"t":1313,"x":0.00825},{"t":1314,"x":-0.00165},{"t":1315,"x":-0.00654},{"t":1316,"x":0.00842},{"t":1317,"x":-0.00219},{"t":1318,"x":-0.00616},{"t":1319,"x":0.00857},{"t":1320,"x":-0.00272},{"t":1321,"x":-0.00575},{"t":1322,"x":0.00868},{"t":1323,"x":-0.00324},{"t":1324,"x":-0.00532},{"t":1325,"x":0.00875},{"t":1326,"x":-0.00375},{"t":1327,"x":-0.00487},{"t":1328,"x":0.00879},{"t":1329,"x":-0.00424},{"t":1330,"x":-0.0044},{"t":1331,"x":0.0088},{"t":1332,"x":-0.00472},{"t":1333,"x":-0.00391},{"t":1334,"x":0.00877},{"t":1335,"x":-0.00517},{"t":1336,"x":-0.00341},{"t":1337,"x":0.00871},{"t":1338,"x":-0.00561},{"t":1339,"x":-0.00289},{"t":1340,"x":0.00861},{"t":1341,"x":-0.00602},{"t":1342,"x":-0.00237},{"t":1343,"x":0.00848},{"t":1344,"x":-0.00641},{"t":1345,"x":-0.00183},{"t":1346,"x":0.00831},{"t":1347,"x":-0.00678},{"t":1348,"x":-0.00129},{"t":1349,"x":0.00811},
{"t":1350,"x":-0.00712},{"t":1351,"x":-0.00074},{"t":1352,"x":0.00788},{"t":1353,"x":-0.00743},{"t":1354,"x":-0.00018},{"t":1355,"x":0.00762},{"t":1356,"x":-0.00771},{"t":1357,"x":0.00037},{"t":1358,"x":0.00733},{"t":1359,"x":-0.00796},{"t":1360,"x":0.00092},{"t":1361,"x":0.00701},{"t":1362,"x":-0.00818},{"t":1363,"x":0.00147},{"t":1364,"x":0.00666},{"t":1365,"x":-0.00837},{"t":1366,"x":0.00201},{"t":1367,"x":0.00629},{"t":1368,"x":-0.00852},{"t":1369,"x":0.00254},{"t":1370,"x":0.00589},{"t":1371,"x":-0.00864},{"t":1372,"x":0.00307},{"t":1373,"x":0.00547},{"t":1374,"x":-0.00873},{"t":1375,"x":0.00358},{"t":1376,"x":0.00502},{"t":1377,"x":-0.00878},{"t":1378,"x":0.00408},{"t":1379,"x":0.00456},{"t":1380,"x":-0.0088},{"t":1381,"x":0.00456},{"t":1382,"x":0.00408},{"t":1383,"x":-0.00878},{"t":1384,"x":0.00502},{"t":1385,"x":0.00358},{"t":1386,"x":-0.00873},{"t":1387,"x":0.00547},{"t":1388,"x":0.00307},{"t":1389,"x":-0.00864},{"t":1390,"x":0.00589},{"t":1391,"x":0.00254},{"t":1392,"x":-0.00852},{"t":1393,"x":0.00629},{"t":1394,"x":0.00201},{"t":1395,"x":-0.00837},{"t":1396,"x":0.00666},{"t":1397,"x":0.00147},{"t":1398,"x":-0.00818},{"t":1399,"x":0.00701},{"t":1400,"x":0.00092},{"t":1401,"x":-0.00796},{"t":1402,"x":0.00733},{"t":1403,"x":0.00037},{"t":1404,"x":-0.00771},{"t":1405,"x":0.00762},{"t":1406,"x":-0.00018},{"t":1407,"x":-0.00743},{"t":1408,"x":0.00788},{"t":1409,"x":-0.00074},{"t":1410,"x":-0.00712},{"t":1411,"x":0.00811},{"t":1412,"x":-0.00129},{"t":1413,"x":-0.00678},{"t":1414,"x":0.00831},{"t":1415,"x":-0.00183},{"t":1416,"x":-0.00641},{"t":1417,"x":0.00848},{"t":1418,"x":-0.00237},{"t":1419,"x":-0.00602},{"t":1420,"x":0.00861},{"t":1421,"x":-0.00289},{"t":1422,"x":-0.00561},{"t":1423,"x":0.00871},{"t":1424,"x":-0.00341},{"t":1425,"x":-0.00517},{"t":1426,"x":0.00877},{"t":1427,"x":-0.00391},{"t":1428,"x":-0.00472},{"t":1429,"x":0.0088},{"t":1430,"x":-0.0044},{"t":1431,"x":-0.00424},{"t":1432,"x":0.00879},{"t":1433,"x":-0.00487},{"t":1434,"x":-0.00375},{"t":1435,"x":0.00875},{"t":1436,"x":-0.00532},{"t":1437,"x":-0.00324},{"t":1438,"x":0.00868},{"t":1439,"x":-0.00575},{"t":1440,"x":-0.00272},{"t":1441,"x":0.00857},{"t":1442,"x":-0.00616},{"t":1443,"x":-0.00219},{"t":1444,"x":0.00842},{"t":1445,"x":-0.00654},{"t":1446,"x":-0.00165},{"t":1447,"x":0.00825},{"t":1448,"x":-0.0069},{"t":1449,"x":-0.0011},{"t":1450,"x":0.00804},{"t":1451,"x":-0.00723},{"t":1452,"x":-0.00055},{"t":1453,"x":0.0078},{"t":1454,"x":-0.00753},{"t":1455,"x":0},{"t":1456,"x":0.00753},{"t":1457,"x":-0.0078},{"t":1458,"x":0.00055},{"t":1459,"x":0.00723},{"t":1460,"x":-0.00804},{"t":1461,"x":0.0011},{"t":1462,"x":0.0069},{"t":1463,"x":-0.00825},{"t":1464,"x":0.00165},{"t":1465,"x":0.00654},{"t":1466,"x":-0.00842},{"t":1467,"x":0.00219},{"t":1468,"x":0.00616},{"t":1469,"x":-0.00857},{"t":1470,"x":0.00272},{"t":1471,"x":0.00575},{"t":1472,"x":-0.00868},{"t":1473,"x":0.00324},{"t":1474,"x":0.00532},{"t":1475,"x":-0.00875},{"t":1476,"x":0.00375},{"t":1477,"x":0.00487},{"t":1478,"x":-0.00879},{"t":1479,"x":0.00424},{"t":1480,"x":0.0044},{"t":1481,"x":-0.0088},{"t":1482,"x":0.00472},{"t":1483,"x":0.00391},{"t":1484,"x":-0.00877},{"t":1485,"x":0.00517},{"t":1486,"x":0.00341},{"t":1487,"x":-0.00871},{"t":1488,"x":0.00561},{"t":1489,"x":0.00289},{"t":1490,"x":-0.00861},{"t":1491,"x":0.00602},{"t":1492,"x":0.00237},{"t":1493,"x":-0.00848},{"t":1494,"x":0.00641},{"t":1495,"x":0.00183},{"t":1496,"x":-0.00831},{"t":1497,"x":0.00678},{"t":1498,"x":0.00129},{"t":1499,"x":-0.00811},
{"t":1500,"x":0.00712},{"t":1501,"x":0.00074},{"t":1502,"x":-0.00788},{"t":1503,"x":0.00743},{"t":1504,"x":0.00018},{"t":1505,"x":-0.00762},{"t":1506,"x":0.00771},{"t":1507,"x":-0.00037},{"t":1508,"x":-0.00733},{"t":1509,"x":0.00796},{"t":1510,"x":-0.00092},{"t":1511,"x":-0.00701},{"t":1512,"x":0.00818},{"t":1513,"x":-0.00147},{"t":1514,"x":-0.00666},{"t":1515,"x":0.00837},{"t":1516,"x":-0.00201},{"t":1517,"x":-0.00629},{"t":1518,"x":0.00852},{"t":1519,"x":-0.00254},{"t":1520,"x":-0.00589},{"t":1521,"x":0.00864},{"t":1522,"x":-0.00307},{"t":1523,"x":-0.00547},{"t":1524,"x":0.00873},{"t":1525,"x":-0.00358},{"t":1526,"x":-0.00502},{"t":1527,"x":0.00878},{"t":1528,"x":-0.00408},{"t":1529,"x":-0.00456},{"t":1530,"x":0.0088},{"t":1531,"x":-0.00456},{"t":1532,"x":-0.00408},{"t":1533,"x":0.00878},{"t":1534,"x":-0.00502},{"t":1535,"x":-0.00358},{"t":1536,"x":0.00873},{"t":1537,"x":-0.00547},{"t":1538,"x":-0.00307},{"t":1539,"x":0.00864},{"t":1540,"x":-0.00589},{"t":1541,"x":-0.00254},{"t":1542,"x":0.00852},{"t":1543,"x":-0.00629},{"t":1544,"x":-0.00201},{"t":1545,"x":0.00837},{"t":1546,"x":-0.00666},{"t":1547,"x":-0.00147},{"t":1548,"x":0.00818},{"t":1549,"x":-0.00701},{"t":1550,"x":-0.00092},{"t":1551,"x":0.00796},{"t":1552,"x":-0.00733},{"t":1553,"x":-0.00037},{"t":1554,"x":0.00771},{"t":1555,"x":-0.00762},{"t":1556,"x":0.00018},{"t":1557,"x":0.00743},{"t":1558,"x":-0.00788},{"t":1559,"x":0.00074},{"t":1560,"x":0.00712},{"t":1561,"x":-0.00811},{"t":1562,"x":0.00129},{"t":1563,"x":0.00678},{"t":1564,"x":-0.00831},{"t":1565,"x":0.00183},{"t":1566,"x":0.00641},{"t":1567,"x":-0.00848},{"t":1568,"x":0.00237},{"t":1569,"x":0.00602},{"t":1570,"x":-0.00861},{"t":1571,"x":0.00289},{"t":1572,"x":0.00561},{"t":1573,"x":-0.00871},{"t":1574,"x":0.00341},{"t":1575,"x":0.00517},{"t":1576,"x":-0.00877},{"t":1577,"x":0.00391},{"t":1578,"x":0.00472},{"t":1579,"x":-0.0088},{"t":1580,"x":0.0044},{"t":1581,"x":0.00424},{"t":1582,"x":-0.00879},{"t":1583,"x":0.00487},{"t":1584,"x":0.00375},{"t":1585,"x":-0.00875},{"t":1586,"x":0.00532},{"t":1587,"x":0.00324},{"t":1588,"x":-0.00868},{"t":1589,"x":0.00575},{"t":1590,"x":0.00272},{"t":1591,"x":-0.00857},{"t":1592,"x":0.00616},{"t":1593,"x":0.00219},{"t":1594,"x":-0.00842},{"t":1595,"x":0.00654},{"t":1596,"x":0.00165},{"t":1597,"x":-0.00825},{"t":1598,"x":0.0069},{"t":1599,"x":0.0011},{"t":1600,"x":-0.00804},{"t":1601,"x":0.00723},{"t":1602,"x":0.00055},{"t":1603,"x":-0.0078},{"t":1604,"x":0.00753},{"t":1605,"x":0},{"t":1606,"x":-0.00753},{"t":1607,"x":0.0078},{"t":1608,"x":-0.00055},{"t":1609,"x":-0.00723},{"t":1610,"x":0.00804},{"t":1611,"x":-0.0011},{"t":1612,"x":-0.0069},{"t":1613,"x":0.00825},{"t":1614,"x":-0.00165},{"t":1615,"x":-0.00654},{"t":1616,"x":0.00842},{"t":1617,"x":-0.00219},{"t":1618,"x":-0.00616},{"t":1619,"x":0.00857},{"t":1620,"x":-0.00272},{"t":1621,"x":-0.00575},{"t":1622,"x":0.00868},{"t":1623,"x":-0.00324},{"t":1624,"x":-0.00532},{"t":1625,"x":0.00875},{"t":1626,"x":-0.00375},{"t":1627,"x":-0.00487},{"t":1628,"x":0.00879},{"t":1629,"x":-0.00424},{"t":1630,"x":-0.0044},{"t":1631,"x":0.0088},{"t":1632,"x":-0.00472},{"t":1633,"x":-0.00391},{"t":1634,"x":0.00877},{"t":1635,"x":-0.00517},{"t":1636,"x":-0.00341},{"t":1637,"x":0.00871},{"t":1638,"x":-0.00561},{"t":1639,"x":-0.00289},{"t":1640,"x":0.00861},{"t":1641,"x":-0.00602},{"t":1642,"x":-0.00237},{"t":1643,"x":0.00848},{"t":1644,"x":-0.00641},{"t":1645,"x":-0.00183},{"t":1646,"x":0.00831},{"t":1647,"x":-0.00678},{"t":1648,"x":-0.00129},{"t":1649,"x":0.00811},
{"t":1650,"x":-0.00712},{"t":1651,"x":-0.00074},{"t":1652,"x":0.00788},{"t":1653,"x":-0.00743},{"t":1654,"x":-0.00018},{"t":1655,"x":0.00762},{"t":1656,"x":-0.00771},{"t":1657,"x":0.00037},{"t":1658,"x":0.00733},{"t":1659,"x":-0.00796},{"t":1660,"x":0.00092},{"t":1661,"x":0.00701},{"t":1662,"x":-0.00818},{"t":1663,"x":0.00147},{"t":1664,"x":0.00666},{"t":1665,"x":-0.00837},{"t":1666,"x":0.00201},{"t":1667,"x":0.00629},{"t":1668,"x":-0.00852},{"t":1669,"x":0.00254},{"t":1670,"x":0.00589},{"t":1671,"x":-0.00864},{"t":1672,"x":0.00307},{"t":1673,"x":0.00547},{"t":1674,"x":-0.00873},{"t":1675,"x":0.00358},{"t":1676,"x":0.00502},{"t":1677,"x":-0.00878},{"t":1678,"x":0.00408},{"t":1679,"x":0.00456},{"t":1680,"x":-0.0088},{"t":1681,"x":0.00456},{"t":1682,"x":0.00408},{"t":1683,"x":-0.00878},{"t":1684,"x":0.00502},{"t":1685,"x":0.00358},{"t":1686,"x":-0.00873},{"t":1687,"x":0.00547},{"t":1688,"x":0.00307},{"t":1689,"x":-0.00864},{"t":1690,"x":0.00589},{"t":1691,"x":0.00254},{"t":1692,"x":-0.00852},{"t":1693,"x":0.00629},{"t":1694,"x":0.00201},{"t":1695,"x":-0.00837},{"t":1696,"x":0.00666},{"t":1697,"x":0.00147},{"t":1698,"x":-0.00818},{"t":1699,"x":0.00701},{"t":1700,"x":0.00092},{"t":1701,"x":-0.00796},{"t":1702,"x":0.00733},{"t":1703,"x":0.00037},{"t":1704,"x":-0.00771},{"t":1705,"x":0.00762},{"t":1706,"x":-0.00018},{"t":1707,"x":-0.00743},{"t":1708,"x":0.00788},{"t":1709,"x":-0.00074},{"t":1710,"x":-0.00712},{"t":1711,"x":0.00811},{"t":1712,"x":-0.00129},{"t":1713,"x":-0.00678},{"t":1714,"x":0.00831},{"t":1715,"x":-0.00183},{"t":1716,"x":-0.00641},{"t":1717,"x":0.00848},{"t":1718,"x":-0.00237},{"t":1719,"x":-0.00602},{"t":1720,"x":0.00861},{"t":1721,"x":-0.00289},{"t":1722,"x":-0.00561},{"t":1723,"x":0.00871},{"t":1724,"x":-0.00341},{"t":1725,"x":-0.00517},{"t":1726,"x":0.00877},{"t":1727,"x":-0.00391},{"t":1728,"x":-0.00472},{"t":1729,"x":0.0088},{"t":1730,"x":-0.0044},{"t":1731,"x":-0.00424},{"t":1732,"x":0.00879},{"t":1733,"x":-0.00487},{"t":1734,"x":-0.00375},{"t":1735,"x":0.00875},{"t":1736,"x":-0.00532},{"t":1737,"x":-0.00324},{"t":1738,"x":0.00868},{"t":1739,"x":-0.00575},{"t":1740,"x":-0.00272},{"t":1741,"x":0.00857},{"t":1742,"x":-0.00616},{"t":1743,"x":-0.00219},{"t":1744,"x":0.00842},{"t":1745,"x":-0.00654},{"t":1746,"x":-0.00165},{"t":1747,"x":0.00825},{"t":1748,"x":-0.0069},{"t":1749,"x":-0.0011},{"t":1750,"x":0.00804},{"t":1751,"x":-0.00723},{"t":1752,"x":-0.00055},{"t":1753,"x":0.0078},{"t":1754,"x":-0.00753},{"t":1755,"x":0},{"t":1756,"x":0.00753},{"t":1757,"x":-0.0078},{"t":1758,"x":0.00055},{"t":1759,"x":0.00723},{"t":1760,"x":-0.00804},{"t":1761,"x":0.0011},{"t":1762,"x":0.0069},{"t":1763,"x":-0.00825},{"t":1764,"x":0.00165},{"t":1765,"x":0.00654},{"t":1766,"x":-0.00842},{"t":1767,"x":0.00219},{"t":1768,"x":0.00616},{"t":1769,"x":-0.00857},{"t":1770,"x":0.00272},{"t":1771,"x":0.00575},{"t":1772,"x":-0.00868},{"t":1773,"x":0.00324},{"t":1774,"x":0.00532},{"t":1775,"x":-0.00875},{"t":1776,"x":0.00375},{"t":1777,"x":0.00487},{"t":1778,"x":-0.00879},{"t":1779,"x":0.00424},{"t":1780,"x":0.0044},{"t":1781,"x":-0.0088},{"t":1782,"x":0.00472},{"t":1783,"x":0.00391},{"t":1784,"x":-0.00877},{"t":1785,"x":0.00517},{"t":1786,"x":0.00341},{"t":1787,"x":-0.00871},{"t":1788,"x":0.00561},{"t":1789,"x":0.00289},{"t":1790,"x":-0.00861},{"t":1791,"x":0.00602},{"t":1792,"x":0.00237},{"t":1793,"x":-0.00848},{"t":1794,"x":0.00641},{"t":1795,"x":0.00183},{"t":1796,"x":-0.00831},{"t":1797,"x":0.00678},{"t":1798,"x":0.00129},{"t":1799,"x":-0.00811},
{"t":1800,"x":0.00712},{"t":1801,"x":0.00074},{"t":1802,"x":-0.00788},{"t":1803,"x":0.00743},{"t":1804,"x":0.00018},{"t":1805,"x":-0.00762},{"t":1806,"x":0.00771},{"t":1807,"x":-0.00037},{"t":1808,"x":-0.00733},{"t":1809,"x":0.00796},{"t":1810,"x":-0.00092},{"t":1811,"x":-0.00701},{"t":1812,"x":0.00818},{"t":1813,"x":-0.00147},{"t":1814,"x":-0.00666},{"t":1815,"x":0.00837},{"t":1816,"x":-0.00201},{"t":1817,"x":-0.00629},{"t":1818,"x":0.00852},{"t":1819,"x":-0.00254},{"t":1820,"x":-0.00589},{"t":1821,"x":0.00864},{"t":1822,"x":-0.00307},{"t":1823,"x":-0.00547},{"t":1824,"x":0.00873},{"t":1825,"x":-0.00358},{"t":1826,"x":-0.00502},{"t":1827,"x":0.00878},{"t":1828,"x":-0.00408},{"t":1829,"x":-0.00456},{"t":1830,"x":0.0088},{"t":1831,"x":-0.00456},{"t":1832,"x":-0.00408},{"t":1833,"x":0.00878},{"t":1834,"x":-0.00502},{"t":1835,"x":-0.00358},{"t":1836,"x":0.00873},{"t":1837,"x":-0.00547},{"t":1838,"x":-0.00307},{"t":1839,"x":0.00864},{"t":1840,"x":-0.00589},{"t":1841,"x":-0.00254},{"t":1842,"x":0.00852},{"t":1843,"x":-0.00629},{"t":1844,"x":-0.00201},{"t":1845,"x":0.00837},{"t":1846,"x":-0.00666},{"t":1847,"x":-0.00147},{"t":1848,"x":0.00818},{"t":1849,"x":-0.00701},{"t":1850,"x":-0.00092},{"t":1851,"x":0.00796},{"t":1852,"x":-0.00733},{"t":1853,"x":-0.00037},{"t":1854,"x":0.00771},{"t":1855,"x":-0.00762},{"t":1856,"x":0.00018},{"t":1857,"x":0.00743},{"t":1858,"x":-0.00788},{"t":1859,"x":0.00074},{"t":1860,"x":0.00712},{"t":1861,"x":-0.00811},{"t":1862,"x":0.00129},{"t":1863,"x":0.00678},{"t":1864,"x":-0.00831},{"t":1865,"x":0.00183},{"t":1866,"x":0.00641},{"t":1867,"x":-0.00848},{"t":1868,"x":0.00237},{"t":1869,"x":0.00602},{"t":1870,"x":-0.00861},{"t":1871,"x":0.00289},{"t":1872,"x":0.00561},{"t":1873,"x":-0.00871},{"t":1874,"x":0.00341},{"t":1875,"x":0.00517},{"t":1876,"x":-0.00877},{"t":1877,"x":0.00391},{"t":1878,"x":0.00472},{"t":1879,"x":-0.0088},{"t":1880,"x":0.0044},{"t":1881,"x":0.00424},{"t":1882,"x":-0.00879},{"t":1883,"x":0.00487},{"t":1884,"x":0.00375},{"t":1885,"x":-0.00875},{"t":1886,"x":0.00532},{"t":1887,"x":0.00324},{"t":1888,"x":-0.00868},{"t":1889,"x":0.00575},{"t":1890,"x":0.00272},{"t":1891,"x":-0.00857},{"t":1892,"x":0.00616},{"t":1893,"x":0.00219},{"t":1894,"x":-0.00842},{"t":1895,"x":0.00654},{"t":1896,"x":0.00165},{"t":1897,"x":-0.00825},{"t":1898,"x":0.0069},{"t":1899,"x":0.0011},{"t":1900,"x":-0.00804},{"t":1901,"x":0.00723},{"t":1902,"x":0.00055},{"t":1903,"x":-0.0078},{"t":1904,"x":0.00753},{"t":1905,"x":0},{"t":1906,"x":-0.00753},{"t":1907,"x":0.0078},{"t":1908,"x":-0.00055},{"t":1909,"x":-0.00723},{"t":1910,"x":0.00804},{"t":1911,"x":-0.0011},{"t":1912,"x":-0.0069},{"t":1913,"x":0.00825},{"t":1914,"x":-0.00165},{"t":1915,"x":-0.00654},{"t":1916,"x":0.00842},{"t":1917,"x":-0.00219},{"t":1918,"x":-0.00616},{"t":1919,"x":0.00857},{"t":1920,"x":-0.00272},{"t":1921,"x":-0.00575},{"t":1922,"x":0.00868},{"t":1923,"x":-0.00324},{"t":1924,"x":-0.00532},{"t":1925,"x":0.00875},{"t":1926,"x":-0.00375},{"t":1927,"x":-0.00487},{"t":1928,"x":0.00879},{"t":1929,"x":-0.00424},{"t":1930,"x":-0.0044},{"t":1931,"x":0.0088},{"t":1932,"x":-0.00472},{"t":1933,"x":-0.00391},{"t":1934,"x":0.00877},{"t":1935,"x":-0.00517},{"t":1936,"x":-0.00341},{"t":1937,"x":0.00871},{"t":1938,"x":-0.00561},{"t":1939,"x":-0.00289},{"t":1940,"x":0.00861},{"t":1941,"x":-0.00602},{"t":1942,"x":-0.00237},{"t":1943,"x":0.00848},{"t":1944,"x":-0.00641},{"t":1945,"x":-0.00183},{"t":1946,"x":0.00831},{"t":1947,"x":-0.00678},{"t":1948,"x":-0.00129},{"t":1949,"x":0.00811},{"t":1950,"x":-0.00712},{"t":1951,"x":-0.00074},{"t":1952,"x":0.00788},{"t":1953,"x":-0.00743},{"t":1954,"x":-0.00018},{"t":1955,"x":0.00762},{"t":1956,"x":-0.00771},{"t":1957,"x":0.00037},{"t":1958,"x":0.00733},{"t":1959,"x":-0.00796},{"t":1960,"x":0.00092},{"t":1961,"x":0.00701},{"t":1962,"x":-0.00818},{"t":1963,"x":0.00147},{"t":1964,"x":0.00666},{"t":1965,"x":-0.00837},{"t":1966,"x":0.00201},{"t":1967,"x":0.00629},{"t":1968,"x":-0.00852},{"t":1969,"x":0.00254},{"t":1970,"x":0.00589},{"t":1971,"x":-0.00864},{"t":1972,"x":0.00307},{"t":1973,"x":0.00547},{"t":1974,"x":-0.00873},{"t":1975,"x":0.00358},{"t":1976,"x":0.00502},{"t":1977,"x":-0.00878},{"t":1978,"x":0.00408},{"t":1979,"x":0.00456},{"t":1980,"x":-0.0088},{"t":1981,"x":0.00456},{"t":1982,"x":0.00408},{"t":1983,"x":-0.00878},{"t":1984,"x":0.00502},{"t":1985,"x":0.00358},{"t":1986,"x":-0.00873},{"t":1987,"x":0.00547},{"t":1988,"x":0.00307},{"t":1989,"x":-0.00864},{"t":1990,"x":0.00589},{"t":1991,"x":0.00254},{"t":1992,"x":-0.00852},{"t":1993,"x":0.00629},{"t":1994,"x":0.00201},{"t":1995,"x":-0.00837},{"t":1996,"x":0.00666},{"t":1997,"x":0.00147},{"t":1998,"x":-0.00818},{"t":1999,"x":0.00701}]},
"layer":[
{"data":{"name":"tbt"},"mark":{"type":"circle","size":2,"color":"#000000","opacity":0.85},
"encoding":{"x":{"field":"t","type":"quantitative","scale":{"domain":[-96.4,2078.7],"nice":false,"zero":false},"axis":{"orient":"bottom","values":[0,250,500,750,1000,1250,1500,1750,2000],"format":"d","labelFont":"DejaVu Serif","labelFontSize":8.5,"labelColor":"#333333","labelPadding":1,"tickColor":"#777777","tickSize":3,"domainColor":"#000000","domainWidth":1.5,"grid":false,"title":"turns","titleFont":"DejaVu Serif","titleFontSize":18,"titleFontWeight":"normal","titleColor":"#000000","titlePadding":3}},
"y":{"field":"x","type":"quantitative","scale":{"domain":[-0.00956,0.00971],"nice":false,"zero":false},"axis":{"values":[-0.0075,-0.005,-0.0025,0,0.0025,0.005,0.0075],"format":".4f","labelFont":"DejaVu Serif","labelFontSize":8.5,"labelColor":"#333333","labelPadding":2,"tickColor":"#777777","tickSize":3,"domain":false,"grid":false,"title":"horizontal TbT beam position [m]","titleFont":"DejaVu Serif","titleFontSize":18,"titleFontWeight":"normal","titleColor":"#000000","titlePadding":3}}}},
{"data":{"name":"wm"},"mark":{"type":"text","font":"Liberation Sans","fontWeight":"bold","fontSize":53,"color":"#c00000","align":"center","baseline":"alphabetic"},
"encoding":{"x":{"field":"t","type":"quantitative","axis":{"orient":"top","values":[-50,0,50,100,150,200,250,300,350,400,450,500,550,600,650,700,750,800,850,900,950,1000,1050,1100,1150,1200,1250,1300,1350,1400,1450,1500,1550,1600,1650,1700,1750,1800,1850,1900,1950,2000,2050],"labels":false,"title":null,"domainColor":"#e6e6e6","domainWidth":1,"tickColor":"#aaaaaa","tickSize":2,"grid":false}},
"y":{"field":"x","type":"quantitative","axis":null},"text":{"field":"label"}}}
],
"resolve":{"axis":{"x":"independent","y":"independent"}}}
